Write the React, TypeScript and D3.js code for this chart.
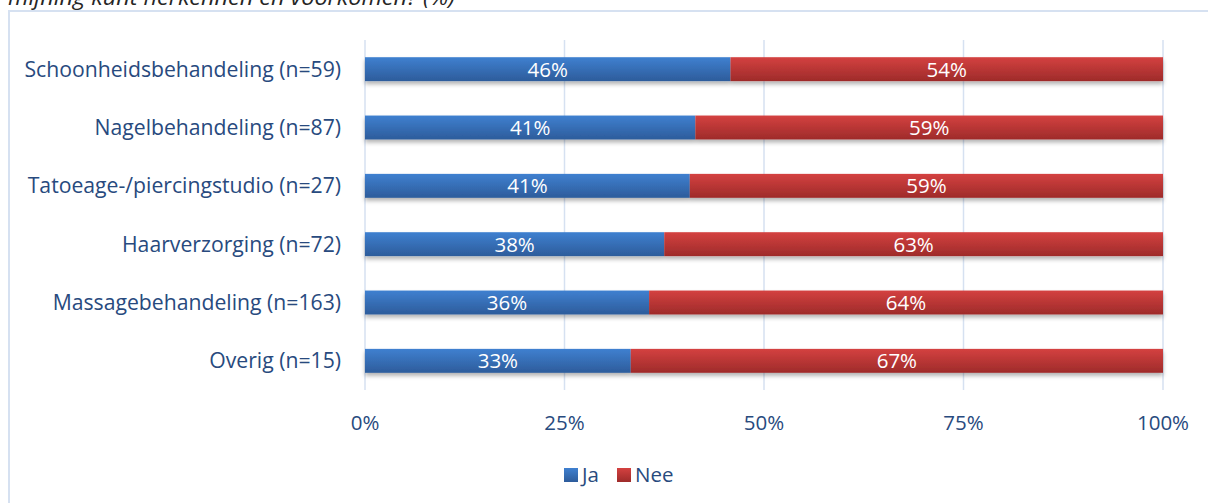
import { useEffect, useRef } from 'react';
import * as d3 from 'd3';

const categories = [
  'Schoonheidsbehandeling (n=59)',
  'Nagelbehandeling (n=87)',
  'Tatoeage-/piercingstudio (n=27)',
  'Haarverzorging (n=72)',
  'Massagebehandeling (n=163)',
  'Overig (n=15)',
];
const jaValues = [45.8, 41.4, 40.7, 37.5, 35.6, 33.3];
const neeValues = [54.2, 58.6, 59.3, 62.5, 64.4, 66.7];
const tickValues = [0, 25, 50, 75, 100];
const seriesNames = ['Ja', 'Nee'];

const WIDTH = 1208;
const HEIGHT = 503;
const PLOT = { left: 365, right: 1163, top: 40, bottom: 390 };
const TEXT_COLOR = '#284a7e';
const FONT = '"Open Sans", Lato, sans-serif';

export default function App() {
  const ref = useRef<SVGSVGElement | null>(null);

  useEffect(() => {
    if (!ref.current) return;
    const svg = d3.select(ref.current);
    svg.selectAll('*').remove();

    const x = d3.scaleLinear().domain([0, 100]).range([PLOT.left, PLOT.right]);
    const y = d3
      .scaleBand<string>()
      .domain(categories)
      .range([PLOT.top, PLOT.bottom])
      .paddingInner(0.59)
      .paddingOuter(0.295);

    const defs = svg.append('defs');
    const gradients = [
      { id: 'grad-ja', top: '#3f80d0', bottom: '#2d5c9b' },
      { id: 'grad-nee', top: '#d44140', bottom: '#9e2b2a' },
    ];
    gradients.forEach((gr) => {
      const lg = defs
        .append('linearGradient')
        .attr('id', gr.id)
        .attr('x1', 0)
        .attr('y1', 0)
        .attr('x2', 0)
        .attr('y2', 1);
      lg.append('stop').attr('offset', '0%').attr('stop-color', gr.top);
      lg.append('stop').attr('offset', '100%').attr('stop-color', gr.bottom);
    });
    const shadow = defs
      .append('filter')
      .attr('id', 'bar-shadow')
      .attr('x', '-5%')
      .attr('y', '-40%')
      .attr('width', '110%')
      .attr('height', '200%');
    shadow
      .append('feDropShadow')
      .attr('dx', 0)
      .attr('dy', 3)
      .attr('stdDeviation', 2)
      .attr('flood-color', '#000')
      .attr('flood-opacity', 0.3);

    svg
      .append('rect')
      .attr('width', WIDTH)
      .attr('height', HEIGHT)
      .attr('fill', '#fff');

    // chart frame, cut off at the right and bottom
    svg
      .append('rect')
      .attr('x', 9)
      .attr('y', 11)
      .attr('width', WIDTH + 20)
      .attr('height', HEIGHT + 20)
      .attr('fill', 'none')
      .attr('stroke', '#d6e1f1')
      .attr('stroke-width', 2);

    // title, mostly above the visible area
    svg
      .append('text')
      .attr('x', 8)
      .attr('y', 5)
      .attr('font-family', FONT)
      .attr('font-style', 'italic')
      .attr('font-size', 22)
      .attr('fill', '#262626')
      .attr('textLength', 447)
      .attr('lengthAdjust', 'spacingAndGlyphs')
      .text('mijning kunt herkennen en voorkomen? (%)');

    // gridlines
    svg
      .append('g')
      .selectAll('line')
      .data(tickValues)
      .join('line')
      .attr('x1', (d) => x(d))
      .attr('x2', (d) => x(d))
      .attr('y1', PLOT.top)
      .attr('y2', PLOT.bottom)
      .attr('stroke', '#d6e1f1')
      .attr('stroke-width', 1.5);

    const stacks = categories.map((c, i) => ({
      cat: c,
      segs: [
        { name: seriesNames[0], x0: 0, x1: jaValues[i], v: jaValues[i], fill: 'url(#grad-ja)' },
        {
          name: seriesNames[1],
          x0: jaValues[i],
          x1: jaValues[i] + neeValues[i],
          v: neeValues[i],
          fill: 'url(#grad-nee)',
        },
      ],
    }));

    const rows = svg
      .append('g')
      .selectAll('g')
      .data(stacks)
      .join('g')
      .attr('transform', (d) => `translate(0,${y(d.cat)})`);

    rows
      .append('g')
      .attr('filter', 'url(#bar-shadow)')
      .selectAll('rect')
      .data((d) => d.segs)
      .join('rect')
      .attr('x', (d) => x(d.x0))
      .attr('width', (d) => x(d.x1) - x(d.x0))
      .attr('height', y.bandwidth())
      .attr('fill', (d) => d.fill);

    rows
      .selectAll('text')
      .data((d) => d.segs)
      .join('text')
      .attr('x', (d) => (x(d.x0) + x(d.x1)) / 2)
      .attr('y', y.bandwidth() / 2)
      .attr('dy', '0.36em')
      .attr('text-anchor', 'middle')
      .attr('font-family', FONT)
      .attr('font-size', 20.5)
      .attr('fill', '#fff')
      .text((d) => `${Math.round(d.v)}%`);

    // category labels
    svg
      .append('g')
      .selectAll('text')
      .data(categories)
      .join('text')
      .attr('x', PLOT.left - 24)
      .attr('y', (d) => (y(d) ?? 0) + y.bandwidth() / 2)
      .attr('dy', '0.36em')
      .attr('text-anchor', 'end')
      .attr('font-family', FONT)
      .attr('font-size', 21.2)
      .attr('fill', TEXT_COLOR)
      .text((d) => d);

    // x tick labels
    svg
      .append('g')
      .selectAll('text')
      .data(tickValues)
      .join('text')
      .attr('x', (d) => x(d))
      .attr('y', 423)
      .attr('dy', '0.36em')
      .attr('text-anchor', 'middle')
      .attr('font-family', FONT)
      .attr('font-size', 20.5)
      .attr('fill', TEXT_COLOR)
      .text((d) => `${d}%`);

    // legend
    const legend = [
      { name: seriesNames[0], fill: 'url(#grad-ja)', x: 564 },
      { name: seriesNames[1], fill: 'url(#grad-nee)', x: 617 },
    ];
    const lg = svg
      .append('g')
      .selectAll('g')
      .data(legend)
      .join('g')
      .attr('transform', (d) => `translate(${d.x},468)`);
    lg.append('rect').attr('width', 14).attr('height', 14).attr('fill', (d) => d.fill);
    lg.append('text')
      .attr('x', 18)
      .attr('y', 7)
      .attr('dy', '0.36em')
      .attr('font-family', FONT)
      .attr('font-size', 20.5)
      .attr('fill', TEXT_COLOR)
      .text((d) => d.name);
  }, []);

  return (
    <svg
      ref={ref}
      width={WIDTH}
      height={HEIGHT}
      style={{ position: 'absolute', left: 0, top: 0, display: 'block' }}
    />
  );
}
